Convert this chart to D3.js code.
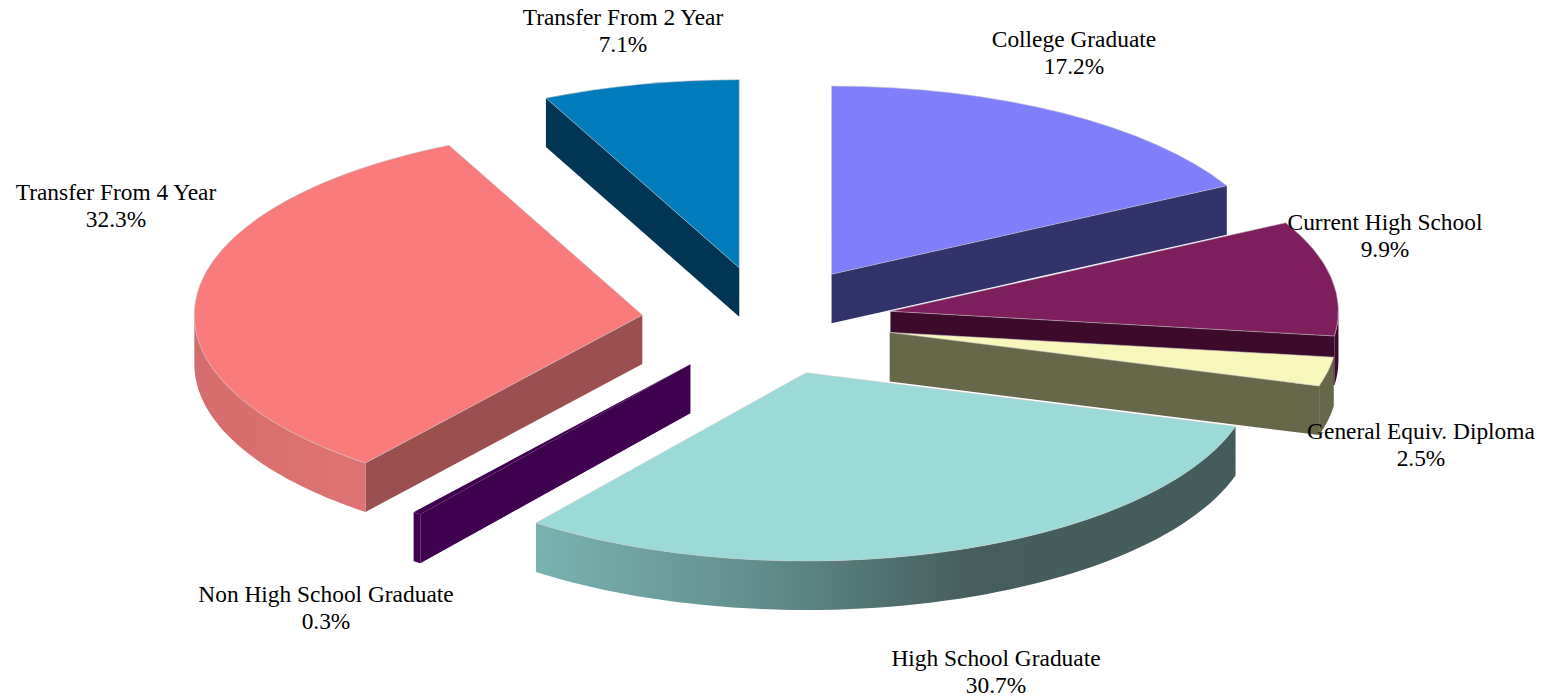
<!DOCTYPE html>
<html>
<head>
<meta charset="utf-8">
<script src="https://cdn.jsdelivr.net/npm/d3@7"></script>
<style>
	html, body { margin: 0; background: #fff; overflow: hidden; }
	text { font-family: "Liberation Serif", serif; font-size: 23.4px; fill: #000; text-anchor: middle; }
</style>
</head>
<body>
<div id="graphic"></div>
<script>
// clockwise from 12 o'clock, same order as the chart
const categories = ['College Graduate', 'Current High School', 'General Equiv. Diploma', 'High School Graduate', 'Non High School Graduate', 'Transfer From 4 Year', 'Transfer From 2 Year'];
const shares = [17.2, 9.9, 2.5, 30.7, 0.3, 32.3, 7.1];
const topColours = ['#7f7ffb', '#7e1e5c', '#f7f7bb', '#9cdada', '#400050', '#f97b7b', '#007bbb'];
const cutColours = ['#33336c', '#3c0a2b', '#67674a', '#435c5c', '#400050', '#9c4f4f', '#003653'];
const wallColours = ['#33336c', '#3c0a2b', '#67674a', 'url(#wallHigh)', '#400050', 'url(#wallTransfer)', '#003653'];

// paint order, back to front
const drawOrder = [6, 5, 1, 0, 2, 4, 3];

// label centre and first baseline, placed by hand like the original
const labelX = [1074, 1385, 1421, 996, 326, 116, 623];
const labelY = [47, 230, 439, 666, 602, 200, 25];

const width = 1547, height = 699;
const cx = 767, cy = 321;
const rx = 448, tilt = 0.42, depth = 49;
const explode = 0.28, explodeTilt = 0.435;
const halfPi = Math.PI / 2;

const svg = d3.select('#graphic').append('svg').attr('width', width).attr('height', height);

const defs = svg.append('defs');
function addGradient(id, stops) {
	defs.append('linearGradient')
		.attr('id', id)
		.selectAll('stop')
		.data(stops)
		.join('stop')
		.attr('offset', (d) => d[0])
		.attr('stop-color', (d) => d[1]);
}
addGradient('wallHigh', [[0, '#7ab2b2'], [0.3, '#64908f'], [0.62, '#455e5d'], [1, '#435c5c']]);
addGradient('wallTransfer', [[0, '#d46d6d'], [1, '#df7373']]);

const slices = d3.pie().sort(null).value((d) => d)(shares);

// one unit of radius projected on the tilted plane
const px = (a, r) => r * rx * Math.sin(a);
const py = (a, r) => -r * rx * tilt * Math.cos(a);

const arc = d3.arc().innerRadius(0).outerRadius(rx);
const polygon = d3.line().x((d) => d[0]).y((d) => d[1]);
const wallArea = d3.area().x((a) => px(a, 1)).y0((a) => py(a, 1)).y1((a) => py(a, 1) + depth);

const pieces = svg.selectAll('g.slice')
	.data(drawOrder)
	.join('g')
	.attr('class', 'slice')
	.attr('transform', (i) => {
		const s = slices[i];
		const mid = (s.startAngle + s.endAngle) / 2;
		const shiftY = -explode * rx * explodeTilt * Math.cos(mid);
		return 'translate(' + (cx + px(mid, explode)) + ',' + (cy + shiftY) + ')';
	});

pieces.each(function (i) {
	const s = slices[i];
	const g = d3.select(this);

	// cut faces, only those that turn towards the viewer
	[[s.startAngle, s.startAngle - halfPi], [s.endAngle, s.endAngle + halfPi]].forEach(([a, normal]) => {
		if (Math.cos(normal) >= -0.001) return;
		g.append('path')
			.attr('d', polygon([[0, 0], [px(a, 1), py(a, 1)], [px(a, 1), py(a, 1) + depth], [0, depth]]) + 'Z')
			.attr('fill', cutColours[i]);
	});

	// outer wall, the front half of the rim
	const from = Math.max(s.startAngle, halfPi);
	const to = Math.min(s.endAngle, 3 * halfPi);
	if (to > from) {
		g.append('path')
			.attr('d', wallArea(d3.range(0, 61).map((k) => from + (to - from) * k / 60)))
			.attr('fill', wallColours[i]);
	}

	// top of the slice, the hairline sliver gets no outline
	g.append('path')
		.attr('d', arc(s))
		.attr('transform', 'scale(1,' + tilt + ')')
		.attr('fill', topColours[i])
		.attr('stroke', shares[i] < 1 ? 'none' : '#c4c4c8')
		.attr('stroke-opacity', 0.55)
		.attr('stroke-width', 1)
		.attr('vector-effect', 'non-scaling-stroke');
});

// labels
const labels = svg.selectAll('g.label')
	.data(categories)
	.join('g')
	.attr('class', 'label');

labels.append('text')
	.attr('x', (d, i) => labelX[i])
	.attr('y', (d, i) => labelY[i])
	.text((d) => d);

labels.append('text')
	.attr('x', (d, i) => labelX[i])
	.attr('y', (d, i) => labelY[i] + 27)
	.text((d, i) => d3.format('.1f')(shares[i]) + '%');
</script>
</body>
</html>
